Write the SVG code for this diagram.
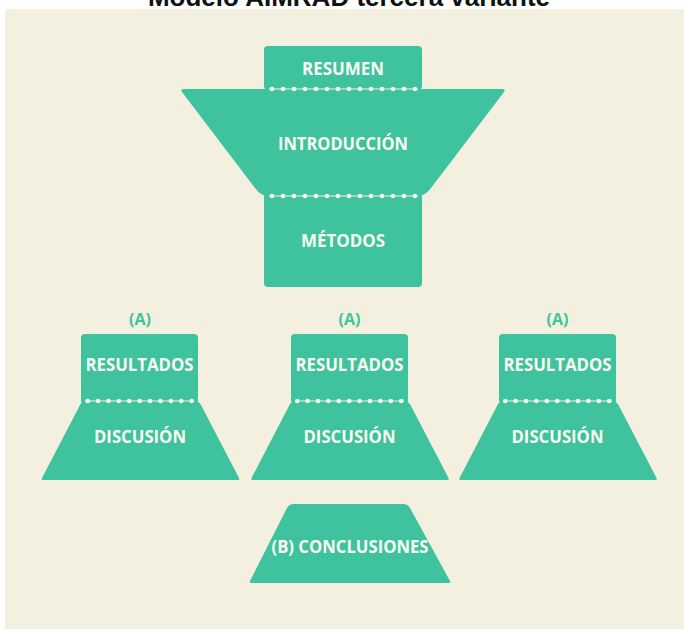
<svg xmlns="http://www.w3.org/2000/svg" width="684" height="631" viewBox="0 0 684 631">
  <style>
    .shape { fill: #3ec39e; }
    .lbl { font-family: "Open Sans", "DejaVu Sans", sans-serif; font-weight: bold; font-size: 17.5px; fill: #fbfaf1; text-anchor: middle; }
    .tag { font-family: "Open Sans", "DejaVu Sans", sans-serif; font-weight: bold; font-size: 16.5px; fill: #3ec39e; text-anchor: middle; }
    .title { font-family: "Liberation Sans", Arial, sans-serif; font-weight: bold; font-size: 26px; fill: #111; text-anchor: middle; }
    .seam { stroke: #f3f0df; stroke-width: 1.2; fill: none; }
    .dots { stroke: #f8f6ec; stroke-width: 4.6; stroke-linecap: round; stroke-dasharray: 0 11; fill: none; }
    .dots2 { stroke: #f8f6ec; stroke-width: 4.6; stroke-linecap: round; stroke-dasharray: 0 10.4; fill: none; }
  </style>
  <rect x="0" y="0" width="684" height="631" fill="#ffffff"/>
  <rect x="5" y="9" width="679" height="620" fill="#f3f0df"/>
  <text class="title" x="349" y="5.5">Modelo AIMRAD tercera variante</text>

  <g id="resumen">
    <rect class="shape" x="264" y="46" width="158" height="44" rx="4"/>
    <text class="lbl" x="343" y="74.5" textLength="82" lengthAdjust="spacingAndGlyphs">RESUMEN</text>
  </g>
  <g id="introduccion">
    <path class="shape" d="M184 89 L502 89 Q506 89 504 92 L431 188 Q425 196 418 196 L268 196 Q261 196 255 188 L182 92 Q180 89 184 89 Z"/>
    <text class="lbl" x="343" y="150" textLength="130" lengthAdjust="spacingAndGlyphs">INTRODUCCIÓN</text>
  </g>
  <g id="metodos">
    <rect class="shape" x="264" y="193" width="158" height="94" rx="4"/>
    <text class="lbl" x="343" y="246.7" textLength="84" lengthAdjust="spacingAndGlyphs">MÉTODOS</text>
  </g>

  <g id="a1">
    <text class="tag" x="140" y="325" textLength="22" lengthAdjust="spacingAndGlyphs">(A)</text>
  </g>
  <g id="resultados1">
    <rect class="shape" x="81" y="334" width="117" height="70" rx="4"/>
    <text class="lbl" x="139.5" y="370.7" textLength="108" lengthAdjust="spacingAndGlyphs">RESULTADOS</text>
  </g>
  <g id="discusion1">
    <path class="shape" d="M87 401 L194 401 Q199 401 201 405 L239 478 Q240 480 238 480 L43 480 Q41 480 42 478 L80 405 Q82 401 87 401 Z"/>
    <text class="lbl" x="140" y="443.3" textLength="92" lengthAdjust="spacingAndGlyphs">DISCUSIÓN</text>
  </g>

  <g id="a2">
    <text class="tag" x="349.5" y="325" textLength="22" lengthAdjust="spacingAndGlyphs">(A)</text>
  </g>
  <g id="resultados2">
    <rect class="shape" x="291" y="334" width="117" height="70" rx="4"/>
    <text class="lbl" x="349.5" y="370.7" textLength="108" lengthAdjust="spacingAndGlyphs">RESULTADOS</text>
  </g>
  <g id="discusion2">
    <path class="shape" d="M296.5 401 L403.5 401 Q408.5 401 410.5 405 L448.5 478 Q449.5 480 447.5 480 L252.5 480 Q250.5 480 251.5 478 L289.5 405 Q291.5 401 296.5 401 Z"/>
    <text class="lbl" x="349.5" y="443.3" textLength="92" lengthAdjust="spacingAndGlyphs">DISCUSIÓN</text>
  </g>

  <g id="a3">
    <text class="tag" x="557.5" y="325" textLength="22" lengthAdjust="spacingAndGlyphs">(A)</text>
  </g>
  <g id="resultados3">
    <rect class="shape" x="499" y="334" width="117" height="70" rx="4"/>
    <text class="lbl" x="557.5" y="370.7" textLength="108" lengthAdjust="spacingAndGlyphs">RESULTADOS</text>
  </g>
  <g id="discusion3">
    <path class="shape" d="M504.5 401 L611.5 401 Q616.5 401 618.5 405 L656.5 478 Q657.5 480 655.5 480 L460.5 480 Q458.5 480 459.5 478 L497.5 405 Q499.5 401 504.5 401 Z"/>
    <text class="lbl" x="557.5" y="443.3" textLength="92" lengthAdjust="spacingAndGlyphs">DISCUSIÓN</text>
  </g>

  <g id="conclusiones">
    <path class="shape" d="M294 504 L403 504 Q408 504 410 508 L450 581 Q451 583 449 583 L251 583 Q249 583 250 581 L287 508 Q289 504 294 504 Z"/>
    <text class="lbl" x="350" y="553.3" textLength="157" lengthAdjust="spacingAndGlyphs">(B) CONCLUSIONES</text>
  </g>

  <g id="connectors">
    <line class="seam" x1="269" y1="89" x2="418" y2="89"/>
    <line class="dots" x1="272" y1="89" x2="418" y2="89"/>
    <line class="seam" x1="269" y1="196" x2="418" y2="196"/>
    <line class="dots" x1="272" y1="196" x2="418" y2="196"/>
    <line class="seam" x1="85" y1="401" x2="194" y2="401"/>
    <line class="dots2" x1="87.7" y1="401" x2="193" y2="401"/>
    <line class="seam" x1="295" y1="401" x2="404" y2="401"/>
    <line class="dots2" x1="297.2" y1="401" x2="402.5" y2="401"/>
    <line class="seam" x1="503" y1="401" x2="612" y2="401"/>
    <line class="dots2" x1="505.2" y1="401" x2="610.5" y2="401"/>
  </g>
</svg>
